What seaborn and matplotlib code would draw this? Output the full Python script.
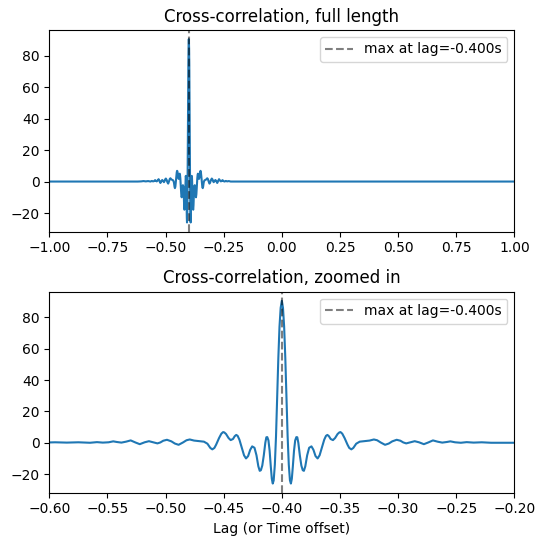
import matplotlib
matplotlib.use("Agg")
import matplotlib.pyplot as plt
import seaborn as sns
import pandas as pd

# Lag (s) and cross-correlation values
lag = [
    -1.000, -0.620, -0.605, -0.595, -0.585, -0.575, -0.565, -0.559, -0.554, -0.549,
    -0.545, -0.542, -0.538, -0.534, -0.530, -0.526, -0.5222, -0.518, -0.5143, -0.5105,
    -0.507, -0.5045, -0.502, -0.4988, -0.495, -0.492, -0.4888, -0.485, -0.482, -0.4792,
    -0.4755, -0.471, -0.467, -0.464, -0.4615, -0.4598, -0.458, -0.4565, -0.454, -0.452,
    -0.4505, -0.4495, -0.448, -0.4458, -0.444, -0.442, -0.4405, -0.4392, -0.438, -0.4365,
    -0.4345, -0.4325, -0.4308, -0.429, -0.4272, -0.4255, -0.4235, -0.4218, -0.4202, -0.419,
    -0.418, -0.4168, -0.4155, -0.4142, -0.4133, -0.4125, -0.4115, -0.4105, -0.4095, -0.4086,
    -0.4078, -0.407, -0.406, -0.405, -0.404, -0.403, -0.402, -0.401, -0.400,
    -0.399, -0.398, -0.397, -0.396, -0.395, -0.394, -0.393, -0.3922, -0.3914, -0.3905,
    -0.3895, -0.3885, -0.3875, -0.3867, -0.3858, -0.3845, -0.3832, -0.382, -0.381, -0.3798,
    -0.3782, -0.3765, -0.3745, -0.3728, -0.371, -0.3692, -0.3675, -0.3655, -0.3635, -0.362,
    -0.3608, -0.3595, -0.358, -0.356, -0.3542, -0.352, -0.3505, -0.3495, -0.348, -0.346,
    -0.3435, -0.342, -0.3402, -0.3385, -0.336, -0.333, -0.329, -0.3245, -0.3208, -0.318,
    -0.315, -0.3112, -0.308, -0.305, -0.3012, -0.298, -0.2955, -0.293, -0.2895, -0.2857,
    -0.282, -0.2778, -0.274, -0.270, -0.266, -0.262, -0.258, -0.255, -0.251, -0.246,
    -0.241, -0.235, -0.228, -0.220, -0.200, 1.000,
]
corr = [
    0.0, 0.0, 0.1, 0.3, 0.1, 0.3, 0.0, 0.4, 0.1, 0.3,
    0.9, 0.5, 0.1, 0.7, 1.5, 0.2, -0.9, 0.3, 1.0, 0.3,
    -0.4, 0.2, 1.3, 1.9, 0.9, -0.5, -1.3, 0.2, 1.6, 2.1,
    1.4, 1.0, 0.7, -0.6, -3.3, -4.2, -3.3, -1.2, 3.0, 5.8,
    6.8, 6.6, 5.6, 3.0, 1.7, 2.4, 4.2, 5.0, 4.4, 2.0,
    -3.0, -8.0, -10.0, -8.5, -4.5, -2.3, -3.2, -8.0, -15.0, -17.9,
    -17.5, -14.5, -8.0, 0.0, 3.5, 3.6, 1.5, -5.0, -15.0, -23.0,
    -26.0, -24.0, -14.0, 4.0, 29.0, 54.0, 74.0, 86.0, 90.5,
    86.0, 74.0, 54.0, 29.0, 4.0, -14.0, -24.0, -26.0, -23.0, -15.0,
    -5.0, 1.5, 3.6, 3.5, 0.0, -8.0, -14.5, -17.5, -17.9, -15.0,
    -8.0, -3.2, -2.3, -4.5, -8.5, -10.0, -8.0, -3.0, 2.0, 4.4,
    5.0, 4.2, 2.4, 1.7, 3.0, 5.6, 6.6, 6.8, 5.8, 3.0,
    -1.2, -3.3, -4.2, -3.3, -0.6, 0.7, 1.0, 1.4, 2.1, 1.6,
    0.2, -1.3, -0.5, 0.9, 1.9, 1.3, 0.2, -0.4, 0.3, 1.0,
    0.3, -0.9, 0.2, 1.5, 0.7, 0.1, 0.5, 0.9, 0.3, 0.0,
    0.4, 0.1, 0.3, 0.0, 0.0, 0.0,
]
max_lag = -0.400
titles = ["Cross-correlation, full length", "Cross-correlation, zoomed in"]
xlims = [(-1.0, 1.0), (-0.6, -0.2)]

df = pd.DataFrame({"lag": lag, "corr": corr})

fig = plt.figure(figsize=(5.45, 5.45), dpi=100)
ax1 = fig.add_axes([0.0905, 0.575, 0.8532, 0.370])
ax2 = fig.add_axes([0.0905, 0.096, 0.8532, 0.3688])

for ax, title, xl in zip([ax1, ax2], titles, xlims):
    sns.lineplot(data=df, x="lag", y="corr", ax=ax, estimator=None, sort=False,
                 color="#1f77b4", linewidth=1.5)
    ax.axvline(max_lag, color="k", linestyle="--", alpha=0.5,
               label=f"max at lag={max_lag:.3f}s")
    ax.set_xlim(*xl)
    ax.set_title(title)
    ax.set_ylabel("")
    ax.set_xlabel("")
    ax.legend(loc="upper right")

ax2.set_xlabel("Lag (or Time offset)")

fig.savefig("out.png", dpi=100)
